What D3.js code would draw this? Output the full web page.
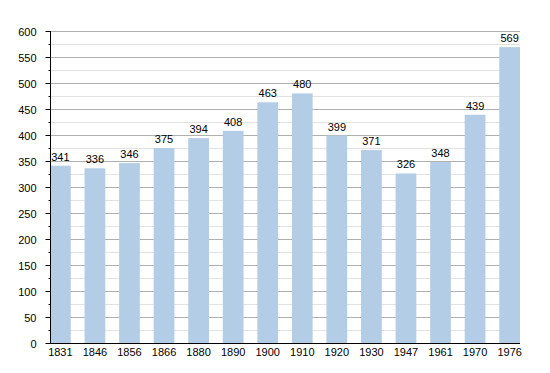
<!DOCTYPE html>
<html>
<head>
<meta charset="utf-8">
<script src="https://cdn.jsdelivr.net/npm/d3@7"></script>
<style>
  body { margin: 0; background: #fff; }
  svg text { font-family: "Liberation Sans", Arial, sans-serif; font-size: 11px; fill: #000; }
</style>
</head>
<body>
<div id="chart"></div>
<script>
const years = ["1831", "1846", "1856", "1866", "1880", "1890", "1900", "1910", "1920", "1930", "1947", "1961", "1970", "1976"];
const population = [341, 336, 346, 375, 394, 408, 463, 480, 399, 371, 326, 348, 439, 569];
const yTicks = [0, 50, 100, 150, 200, 250, 300, 350, 400, 450, 500, 550, 600];

const width = 550, height = 373;
const plot = { left: 50, right: 520, top: 31, bottom: 343 };

const svg = d3.select("#chart")
  .append("svg")
  .attr("width", width)
  .attr("height", height);

const x = d3.scaleBand()
  .domain(years)
  .range([plot.left, plot.right])
  .paddingInner(0.4)
  .paddingOuter(0);

const y = d3.scaleLinear()
  .domain([0, 600])
  .range([plot.bottom, plot.top]);

// minor gridlines every 25
const minor = d3.range(25, 600, 50);
svg.append("g")
  .selectAll("line")
  .data(minor)
  .enter()
  .append("line")
  .attr("x1", plot.left)
  .attr("x2", plot.right)
  .attr("y1", d => Math.round(y(d)) + 0.5)
  .attr("y2", d => Math.round(y(d)) + 0.5)
  .attr("stroke", "#e2e2e2");

// major gridlines every 50
svg.append("g")
  .selectAll("line")
  .data(yTicks.filter(d => d > 0))
  .enter()
  .append("line")
  .attr("x1", plot.left)
  .attr("x2", plot.right)
  .attr("y1", d => Math.round(y(d)) + 0.5)
  .attr("y2", d => Math.round(y(d)) + 0.5)
  .attr("stroke", "#b0b0b0");

// bars
svg.append("g")
  .selectAll("rect")
  .data(population)
  .enter()
  .append("rect")
  .attr("x", (d, i) => x(years[i]))
  .attr("y", d => y(d))
  .attr("width", x.bandwidth())
  .attr("height", d => plot.bottom - y(d))
  .attr("fill", "#b3cde6");

// value labels
svg.append("g")
  .selectAll("text")
  .data(population)
  .enter()
  .append("text")
  .attr("x", (d, i) => x(years[i]) + x.bandwidth() / 2)
  .attr("y", d => y(d) - 5)
  .attr("text-anchor", "middle")
  .text(d => d);

// y axis
const yAxis = svg.append("g")
  .attr("transform", `translate(${plot.left + 0.5},0)`)
  .call(d3.axisLeft(y).tickValues(yTicks).tickSize(5).tickPadding(9));
yAxis.select(".domain").attr("stroke", "#000").attr("d", `M0,${plot.top}V${plot.bottom}`);
yAxis.selectAll(".tick line").attr("stroke", "#000");
yAxis.selectAll("text").style("font-size", "11px").attr("dy", "0.45em");

svg.append("g")
  .attr("transform", `translate(${plot.left + 0.5},0)`)
  .call(d3.axisLeft(y).tickValues(minor).tickSize(2).tickFormat(""))
  .call(g => g.select(".domain").remove())
  .selectAll(".tick line").attr("stroke", "#000");

// x axis
const xAxis = svg.append("g")
  .attr("transform", `translate(0,${plot.bottom + 0.5})`)
  .call(d3.axisBottom(x).tickSize(0).tickPadding(5));
xAxis.select(".domain").attr("stroke", "#000").attr("d", `M${plot.left},0H${plot.right}`);
xAxis.selectAll("text").style("font-size", "11px");
</script>
</body>
</html>
